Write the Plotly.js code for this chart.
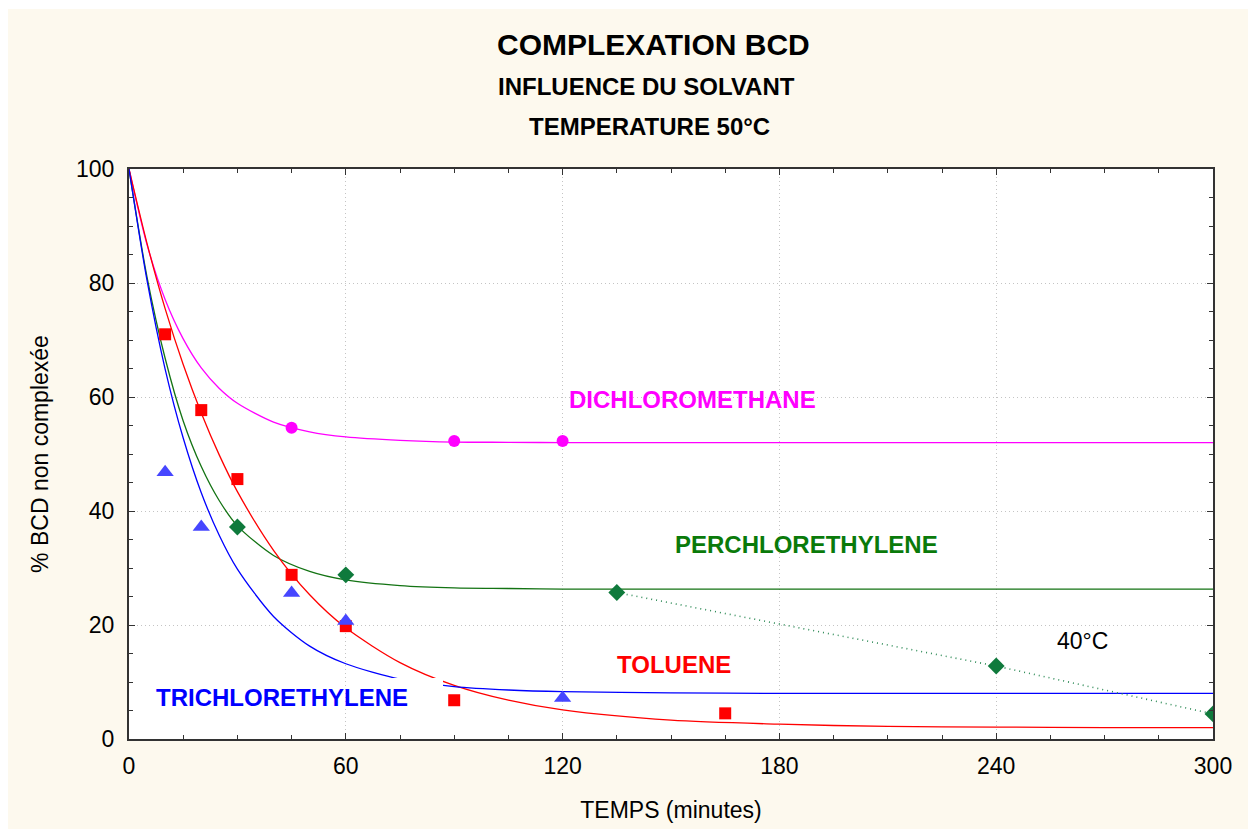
<!DOCTYPE html>
<html>
<head>
<meta charset="utf-8">
<script src="https://cdn.plot.ly/plotly-3.0.1.min.js"></script>
<style>html,body{margin:0;padding:0;background:#fff;}#chart{width:1248px;height:829px;}</style>
</head>
<body>
<div id="chart"></div>
<script>
// ---- measured points ----
const tolX = [10, 20, 30, 45, 60, 90, 165];
const tolY = [71, 57.7, 45.6, 28.8, 19.8, 6.8, 4.5];
const dcmX = [45, 90, 120];
const dcmY = [54.6, 52.3, 52.3];
const perX = [30, 60];
const perY = [37.2, 28.8];
const per40X = [135, 240, 300];
const per40Y = [25.7, 12.8, 4.4];
const triX = [10, 20, 45, 60, 120];
const triY = [46.8, 37.2, 25.6, 20.7, 7.2];

// ---- fitted curves ----
const fitX   = [0, 5, 10, 15, 20, 25, 30, 40, 50, 60, 75, 90, 105, 120, 150, 180, 210, 240, 270, 300];
const tolFit = [100, 86.9, 75.5, 65.7, 57.2, 49.8, 43.4, 33.1, 25.3, 19.5, 13.4, 9.4, 6.8, 5.1, 3.3, 2.6, 2.2, 2.1, 2.0, 2.0];
const triFit = [100, 80.4, 64.9, 52.8, 43.2, 35.7, 29.8, 21.5, 16.3, 13.2, 10.5, 9.2, 8.6, 8.3, 8.1, 8.0, 8.0, 8.0, 8.0, 8.0];
const dcmFit = [100, 86.7, 77.1, 70.2, 65.1, 61.5, 58.9, 55.6, 53.9, 53.0, 52.4, 52.1, 52.05, 52.0, 52.0, 52.0, 52.0, 52.0, 52.0, 52.0];
const perFit = [100, 81.0, 66.8, 55.8, 47.8, 41.8, 37.4, 32.2, 29.4, 27.9, 26.9, 26.5, 26.4, 26.3, 26.3, 26.3, 26.3, 26.3, 26.3, 26.3];

// ---- texts ----
const titleLines = ["COMPLEXATION BCD", "INFLUENCE DU SOLVANT", "TEMPERATURE 50°C"];
const xTitle = "TEMPS (minutes)";
const yTitle = "% BCD non complexée";
const xTicks = [0, 60, 120, 180, 240, 300];
const yTicks = [0, 20, 40, 60, 80, 100];
const seriesLabels = ["DICHLOROMETHANE", "PERCHLORETHYLENE", "TOLUENE", "TRICHLORETHYLENE", "40°C"];

const FONT = "Liberation Sans, Arial, sans-serif";
const cMag = "#ff00ff", cRed = "#ff0000", cBlue = "#0000ff", cGreen = "#137313";

function fit(y, color) {
  return {x: fitX, y: y, type: "scatter", mode: "lines",
          line: {color: color, width: 1.3, shape: "spline", smoothing: 0.8},
          hoverinfo: "skip", showlegend: false};
}

const traces = [
  fit(dcmFit, cMag),
  fit(perFit, cGreen),
  fit(tolFit, cRed),
  fit(triFit, cBlue),
  {x: per40X, y: per40Y, type: "scatter", mode: "lines+markers",
   line: {color: "#2e8b57", width: 1.6, dash: "1px,4px"},
   marker: {symbol: "diamond", size: 13, color: "#0f7a3c"}, showlegend: false},
  {x: dcmX, y: dcmY, type: "scatter", mode: "markers",
   marker: {symbol: "circle", size: 12, color: cMag}, showlegend: false},
  {x: perX, y: perY, type: "scatter", mode: "markers",
   marker: {symbol: "diamond", size: 13, color: "#0f7a3c"}, showlegend: false},
  {x: tolX, y: tolY, type: "scatter", mode: "markers",
   marker: {symbol: "square", size: 12, color: cRed}, showlegend: false},
  {x: triX, y: triY, type: "scatter", mode: "markers",
   marker: {symbol: "triangle-up", size: 15, color: "#4646ff"}, showlegend: false}
];

function ann(text, x, y, color, size, bold) {
  return {text: bold ? "<b>" + text + "</b>" : text, x: x, y: y, xref: "x", yref: "y",
          showarrow: false, xanchor: "center", yanchor: "middle",
          font: {family: FONT, size: size, color: color}};
}
function tann(text, x, y, size) {
  return {text: "<b>" + text + "</b>", x: x, y: y, xref: "paper", yref: "paper",
          showarrow: false, xanchor: "center", yanchor: "middle",
          font: {family: FONT, size: size, color: "#000"}};
}

const annotations = [
  tann(titleLines[0], 0.4839, 1.219, 30),
  tann(titleLines[1], 0.477, 1.1456, 24),
  tann(titleLines[2], 0.480, 1.0754, 24),
  ann(seriesLabels[0], 156, 59.6, cMag, 24, true),
  ann(seriesLabels[1], 187.4, 34.2, "#0a7a0a", 24, true),
  ann(seriesLabels[2], 150.8, 13.0, cRed, 24, true),
  ann(seriesLabels[3], 42.3, 7.3, cBlue, 24, true),
  ann(seriesLabels[4], 264, 17.2, "#000", 23, false)
];

const axisCommon = {
  showline: true, linecolor: "#333", linewidth: 2, mirror: "allticks",
  ticks: "inside", ticklen: 6, tickwidth: 1, tickcolor: "#333",
  showgrid: true, gridcolor: "#c4c4c4", gridwidth: 1, griddash: "1px,3px",
  zeroline: false, tickfont: {family: FONT, size: 23, color: "#000"}
};

const layout = {
  width: 1248, height: 829,
  margin: {l: 129, r: 35, t: 169, b: 90, pad: 0},
  paper_bgcolor: "#fdf9ee", plot_bgcolor: "#ffffff",
  showlegend: false,
  xaxis: Object.assign({}, axisCommon, {
    range: [0, 300], tickvals: xTicks, ticktext: xTicks.map(String),
    minor: {dtick: 15, tick0: 0, ticks: "inside", ticklen: 4, tickcolor: "#333", showgrid: false},
    ticklabelstandoff: 5,
    title: {text: xTitle, font: {family: FONT, size: 23, color: "#000"}, standoff: 24}
  }),
  yaxis: Object.assign({}, axisCommon, {
    range: [0, 100], tickvals: yTicks, ticktext: yTicks.map(String),
    minor: {dtick: 5, tick0: 0, ticks: "inside", ticklen: 4, tickcolor: "#333", showgrid: false},
    ticklabelstandoff: 8,
    title: {text: yTitle, font: {family: FONT, size: 23, color: "#000"}, standoff: 21}
  }),
  annotations: annotations,
  shapes: [
    {type: "rect", xref: "paper", yref: "paper", x0: -0.13, x1: 1.05, y0: 1.2807, y1: 1.32,
     fillcolor: "#ffffff", line: {width: 0}, layer: "below"},
    {type: "rect", xref: "paper", yref: "paper", x0: -0.13, x1: -0.1116, y0: -0.2, y1: 1.32,
     fillcolor: "#ffffff", line: {width: 0}, layer: "below"},
    {type: "rect", xref: "x", yref: "y", x0: 72.8, x1: 86.9, y0: 8.6, y1: 10.7,
     fillcolor: "#ffffff", line: {width: 0}, layer: "above"}
  ]
};

Plotly.newPlot("chart", traces, layout, {displayModeBar: false, staticPlot: true});
</script>
</body>
</html>
